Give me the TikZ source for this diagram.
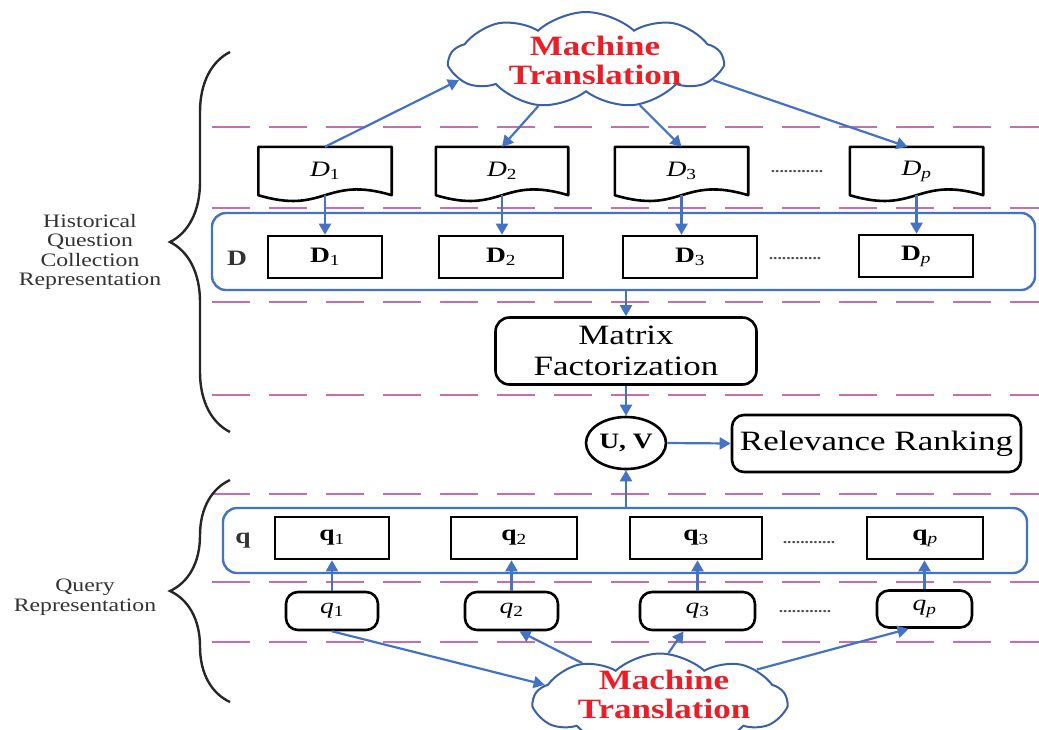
\documentclass[tikz,border=0pt]{standalone}
\usepackage{fontspec}
\setmainfont[FakeStretch=1.25]{Liberation Serif}
\usetikzlibrary{shapes.symbols,shapes.geometric,arrows.meta,decorations.pathreplacing,calc}
\definecolor{flowblue}{RGB}{68,114,196}
\definecolor{sepline}{RGB}{200,110,175}
\definecolor{mtred}{RGB}{235,30,40}
\begin{document}
\begin{tikzpicture}[x=1pt,y=-1pt,
  sep/.style={draw=sepline, line width=2.6pt, dash pattern=on 38pt off 19pt},
  flow/.style={draw=flowblue, line width=2.2pt, -{Triangle[length=11pt,width=12pt]}},
  group/.style={draw=flowblue, line width=2.4pt, rounded corners=14pt, inner sep=0pt},
  box/.style={draw=black, line width=2.6pt, inner sep=0pt, font=\fontsize{22}{24}\selectfont},
  docnode/.style={inner sep=0pt, font=\fontsize{22}{24}\selectfont},
  doc/.style={draw=black, line width=2.6pt, line join=round},
  pill/.style={draw=black, line width=2.6pt, rounded corners=12pt, inner sep=0pt, font=\fontsize{22}{24}\selectfont},
  rbox/.style={draw=black, line width=2.6pt, rounded corners=14pt, inner sep=0pt, align=center, font=\fontsize{28}{31}\selectfont},
  mtcloud/.style={cloud, cloud puffs=9, cloud puff arc=85, draw=flowblue!85!black, line width=2pt, inner sep=0pt},
  mttext/.style={align=center, text=mtred, font=\bfseries\fontsize{28}{29}\selectfont},
  side/.style={align=center, font=\fontsize{19}{19.5}\selectfont, text=black!80},
  dots/.style={font=\bfseries\fontsize{14}{14}\selectfont, text=black!70},
  grouplabel/.style={font=\bfseries\fontsize{22}{24}\selectfont, text=black!80},
  bracestyle/.style={decorate, decoration={brace, amplitude=60pt}, draw=black!85, line width=2.4pt}
]
\useasboundingbox (0,0) rectangle (1039,729);

% layer separators
\foreach \yy in {127,208,302,395,494,582,642}
  \draw[sep] (212,\yy) -- (1039,\yy);

% braces and their captions
\draw[bracestyle] (230,432) -- (230,52);
\draw[bracestyle] (230,702) -- (230,480);
\node[side] (hq) at (90,252) {Historical\\Question\\Collection\\Representation};
\node[side] (qr) at (85,597) {Query\\Representation};

% translation engine feeding the collection
\node[mtcloud, minimum width=272pt, minimum height=96pt] (mtop) at (586,60) {};
\node[mttext] (mtoptext) at (595,60) {Machine\\Translation};

% translated documents
\node[docnode, minimum width=133pt, minimum height=48pt] (d1) at (325,171) {\textit{D}\textsubscript{1}};
\node[docnode, minimum width=132pt, minimum height=48pt] (d2) at (502,171) {\textit{D}\textsubscript{2}};
\node[docnode, minimum width=133pt, minimum height=48pt] (d3) at (681.5,171) {\textit{D}\textsubscript{3}};
\node[docnode, minimum width=133pt, minimum height=48pt] (dp) at (916.5,171) {\textit{D}\textsubscript{\textit{p}}};
\foreach \n in {d1,d2,d3,dp}
  \draw[doc] (\n.south west) -- (\n.north west) -- (\n.north east) -- (\n.south east)
    .. controls ($(\n.south)+(0,-20)$) and ($(\n.south)+(0,20)$) .. (\n.south west) -- cycle;
\node[dots] (ddots) at (797,172) {............};

% document matrix
\node[group, minimum width=823pt, minimum height=77pt] (dg) at (623.5,251.5) {};
\node[grouplabel] (dlab) at (237,258) {D};
\node[box, minimum width=114pt, minimum height=42pt] (b1) at (325,257) {\textbf{D}\textsubscript{1}};
\node[box, minimum width=124pt, minimum height=42pt] (b2) at (501,257) {\textbf{D}\textsubscript{2}};
\node[box, minimum width=134pt, minimum height=42pt] (b3) at (690,257) {\textbf{D}\textsubscript{3}};
\node[box, minimum width=114pt, minimum height=42pt] (bp) at (916,256) {\textbf{D}\textsubscript{\textit{p}}};
\node[dots] (bdots) at (795,259) {............};

% factorization and ranking
\node[rbox, minimum width=261pt, minimum height=67pt] (mf) at (626,351) {Matrix\\Factorization};
\node[ellipse, draw=black, line width=2.6pt, minimum width=80pt, minimum height=52pt, inner sep=0pt,
      font=\bfseries\fontsize{22}{24}\selectfont] (uv) at (626,443) {U, V};
\node[rbox, rounded corners=12pt, minimum width=289pt, minimum height=57pt] (rr) at (876.5,443.5) {Relevance Ranking};

% query vector
\node[group, minimum width=804pt, minimum height=65pt] (qg) at (625,540.5) {};
\node[grouplabel] (qlab) at (243,541) {q};
\node[box, minimum width=114pt, minimum height=42pt] (q1) at (332,538) {\textbf{q}\textsubscript{1}};
\node[box, minimum width=126pt, minimum height=42pt] (q2) at (514,538) {\textbf{q}\textsubscript{2}};
\node[box, minimum width=132pt, minimum height=42pt] (q3) at (696,538) {\textbf{q}\textsubscript{3}};
\node[box, minimum width=116pt, minimum height=42pt] (qp) at (925,538) {\textbf{q}\textsubscript{\textit{p}}};
\node[dots] (qdots) at (809,543) {............};

% translated queries
\node[pill, minimum width=92pt, minimum height=38pt] (s1) at (332,611) {\textit{q}\textsubscript{1}};
\node[pill, minimum width=93pt, minimum height=38pt] (s2) at (511.5,611) {\textit{q}\textsubscript{2}};
\node[pill, minimum width=115pt, minimum height=38pt] (s3) at (697.5,611) {\textit{q}\textsubscript{3}};
\node[pill, minimum width=95pt, minimum height=37pt] (sp) at (924.5,609) {\textit{q}\textsubscript{\textit{p}}};
\node[dots] (sdots) at (805,612) {............};

% translation engine feeding the queries
\node[mtcloud, minimum width=252pt, minimum height=95pt] (mbot) at (660,701) {};
\node[mttext] (mbottext) at (664,694) {Machine\\Translation};

% connectors
\draw[flow] (d1.north) -- (mtop.189);
\draw[flow] (mtop.224) -- (d2.north);
\draw[flow] (mtop.320) -- (d3.north);
\draw[flow] (mtop.351) -- ($(dp.north)+(-9,0)$);
\foreach \a/\b in {d1/b1,d2/b2,d3/b3,dp/bp}
  \draw[flow] (\a.south) -- (\a.south |- \b.north);
\draw[flow] (mf |- dg.south) -- (mf.north);
\draw[flow] (mf.south) -- (uv.north);
\draw[flow] (uv.east) -- (rr.west);
\draw[flow] (uv |- qg.north) -- (uv.south);
\foreach \a/\b in {s1/q1,s2/q2,s3/q3,sp/qp}
  \draw[flow] (\a.north) -- (\a.north |- \b.south);
\draw[flow] (s1.south) -- (mbot.172);
\draw[flow] (mbot.154) -- ($(s2.south)+(8,0)$);
\draw[flow] (mbot.80) -- ($(s3.south)+(-14,0)$);
\draw[flow] (mbot.18) -- ($(sp.south)+(-16,0)$);
\end{tikzpicture}
\end{document}
